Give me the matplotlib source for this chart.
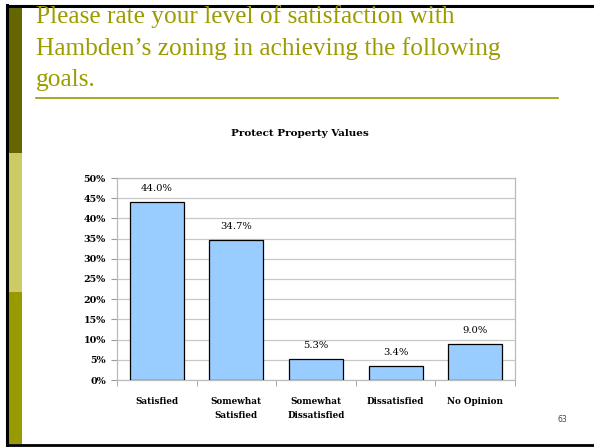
import numpy as np
import matplotlib.pyplot as plt
from matplotlib.patches import Rectangle
from matplotlib.lines import Line2D

# chart data
categories = ['Satisfied', 'Somewhat\nSatisfied', 'Somewhat\nDissatisfied', 'Dissatisfied', 'No Opinion']
values = [44.0, 34.7, 5.3, 3.4, 9.0]
y_ticks = [0, 5, 10, 15, 20, 25, 30, 35, 40, 45, 50]

title_lines = ["Please rate your level of satisfaction with",
               "Hambden\u2019s zoning in achieving the following",
               "goals."]
chart_title = 'Protect Property Values'
page_no = '63'

W, H = 594, 447
fig = plt.figure(figsize=(W / 100, H / 100), dpi=100)
fig.patch.set_facecolor('white')

# slide title (drawn first so the frame sits over it)
for i, line in enumerate(title_lines):
    fig.text(36 / W, 1 - (23 + 31.5 * i) / H, line, color='#9c9c00', family='Liberation Serif',
             fontsize=18.3, va='baseline', ha='left')
fig.add_artist(Line2D([36 / W, 558 / W], [1 - 98 / H, 1 - 98 / H], color='#999900',
                      lw=1.2, transform=fig.transFigure))

# slide decoration: black frame + olive side bar
fig.add_artist(Rectangle((0, 1 - 6 / H), 1, 6 / H, color='white', transform=fig.transFigure, lw=0))
fig.add_artist(Line2D([7 / W, 7 / W], [0, 1 - 5 / H], color='black', lw=2.2, transform=fig.transFigure))
fig.add_artist(Line2D([7 / W, 1], [1 - 6 / H, 1 - 6 / H], color='black', lw=2.2, transform=fig.transFigure))
fig.add_artist(Line2D([7 / W, 1], [1 - 445 / H, 1 - 445 / H], color='black', lw=2.0, transform=fig.transFigure))
for y0, y1, c in [(7, 153, '#666600'), (153, 292, '#cccc66'), (292, 444, '#999900')]:
    fig.add_artist(Rectangle((9 / W, 1 - y1 / H), 13 / W, (y1 - y0) / H,
                             color=c, transform=fig.transFigure, lw=0))

# chart
ax = fig.add_axes([117 / W, 1 - 380 / H, 398 / W, 202 / H])
x = np.arange(len(categories))
ax.bar(x, values, width=0.68, color='#99ccff', edgecolor='black', linewidth=0.9, zorder=3)
for xi, v in zip(x, values):
    ax.annotate(f'{v:.1f}%', (xi, v), xytext=(0, 6.5), textcoords='offset points',
                ha='center', va='bottom', fontsize=7.2, family='DejaVu Serif')

ax.set_xlim(-0.5, len(categories) - 0.5)
ax.set_ylim(0, 50)
ax.set_yticks(y_ticks)
ax.set_yticklabels([f'{t}%' for t in y_ticks], fontsize=6.8, family='DejaVu Serif', fontweight='bold')
ax.set_xticks(x)
ax.set_xticklabels(categories, fontsize=6.3, family='DejaVu Serif', fontweight='bold', linespacing=1.7)
ax.set_xticks(np.arange(len(categories) + 1) - 0.5, minor=True)
ax.tick_params(axis='x', which='major', length=0, pad=12)
ax.tick_params(axis='x', which='minor', length=4, color='#999999', direction='out')
ax.tick_params(axis='y', length=4, color='#999999', pad=4)
ax.grid(axis='y', color='#c8c8c8', lw=0.9, zorder=0)
for s in ax.spines.values():
    s.set_color('#bbbbbb')
    s.set_linewidth(0.9)

fig.text(300 / W, 1 - 134 / H, chart_title, ha='center', va='center', fontsize=7.5,
         family='DejaVu Serif', fontweight='bold')
fig.text(562 / W, 1 - 419 / H, page_no, ha='center', va='center', fontsize=5.5, color='#444444')

fig.savefig('out.png', dpi=100)
